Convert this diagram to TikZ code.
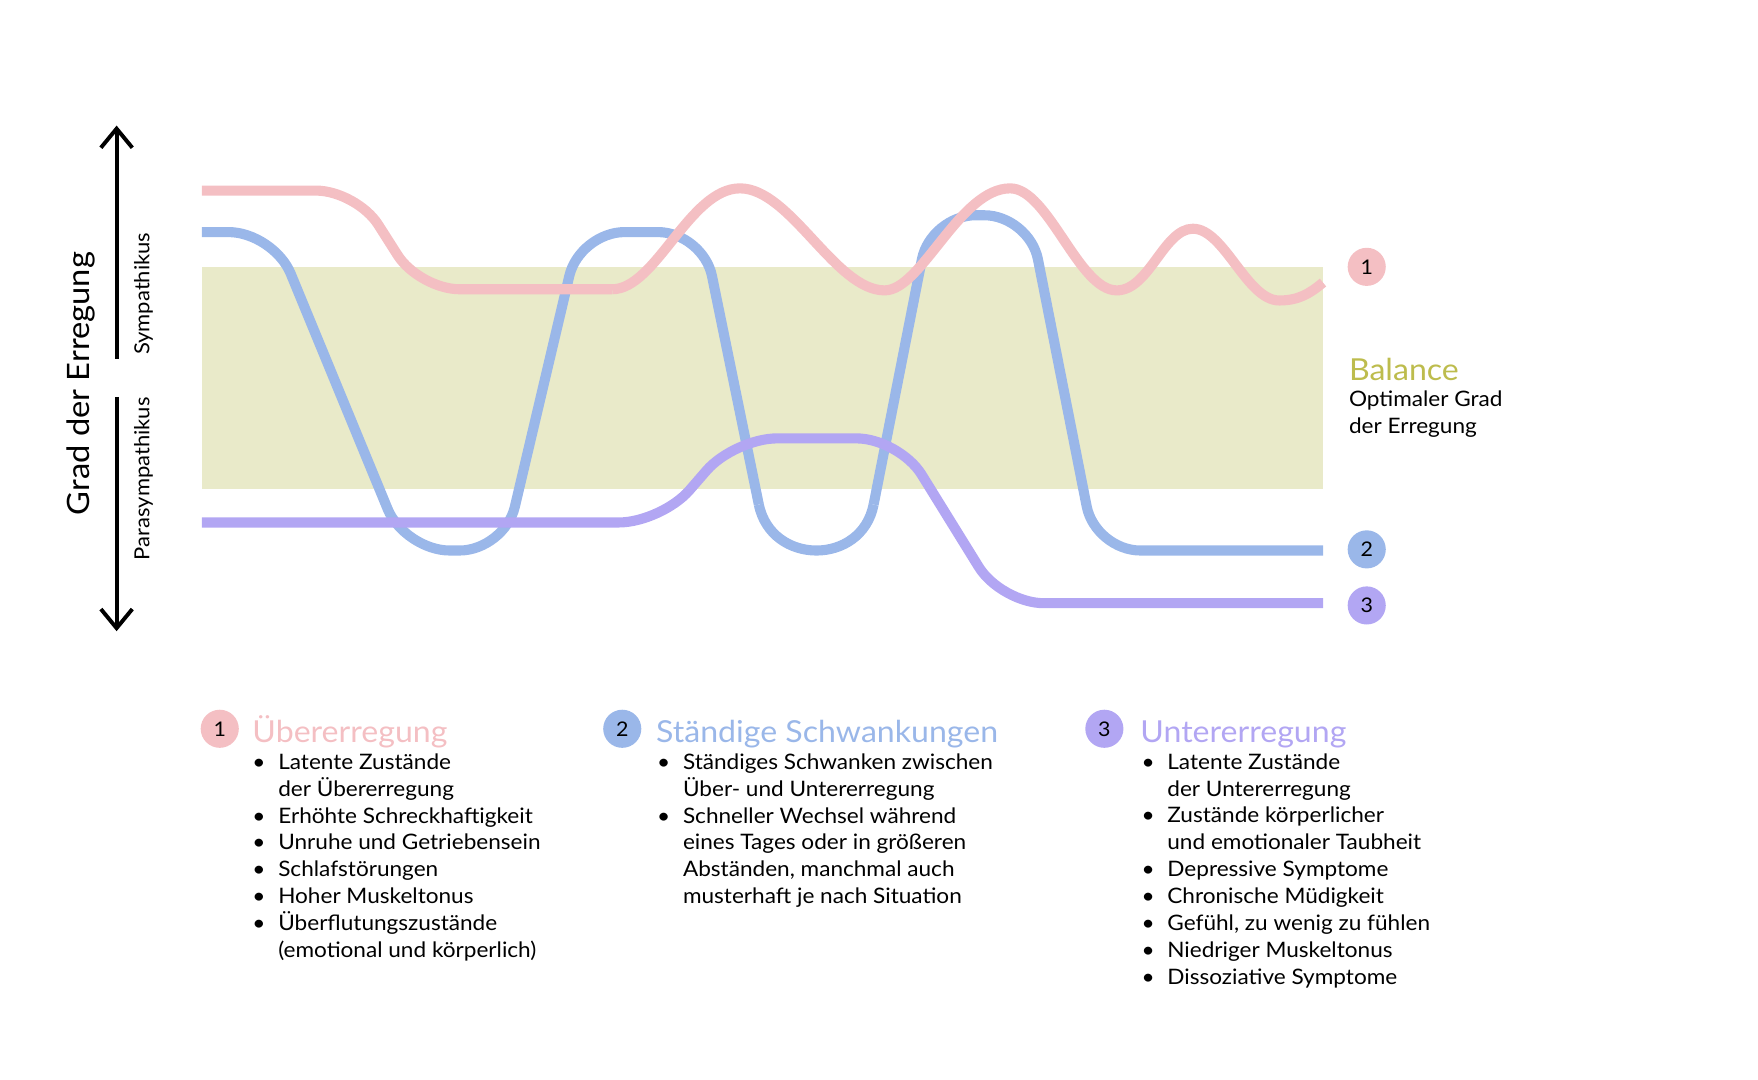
\documentclass[tikz,border=0pt]{standalone}
\usepackage{fontspec}
\setmainfont{Lato}[FakeStretch=1.06]
\usepackage{xcolor}
\usetikzlibrary{arrows.meta}

\definecolor{rosa}{HTML}{F4BFC3}
\definecolor{blau}{HTML}{9AB7E9}
\definecolor{lila}{HTML}{B2A6F3}
\definecolor{oliv}{HTML}{E9EAC9}
\definecolor{olivtext}{HTML}{BDBC4D}

\newcommand{\fs}[2]{\fontsize{#1}{#2}\selectfont}

\begin{document}
\begin{tikzpicture}[x=1pt,y=-1pt,
    kurve/.style={line width=9pt},
    achse/.style={line width=3.5pt,-{Straight Barb[length=17pt,width=28pt]}},
    nummer/.style={shape=circle,minimum size=34pt,inner sep=0pt,font=\fs{18}{20}},
    titel/.style={anchor=base west,inner sep=0pt,font=\fs{27}{30}},
    liste/.style={anchor=base west,inner sep=0pt,font=\fs{19}{24}}]
    \useasboundingbox (0,0) rectangle (1568,963);
    % balance band
    \fill[oliv] (180,238) rectangle (1180,436);
    % axis
    \coordinate (oben) at (104,112);
    \coordinate (mitte1) at (104,320);
    \coordinate (mitte2) at (104,354);
    \coordinate (unten) at (104,563);
    \draw[achse] (mitte1) -- (oben);
    \draw[achse] (mitte2) -- (unten);
    \node[rotate=90,font=\fs{27.5}{34}] (grad) at (72,342) {Grad der Erregung};
    \node[rotate=90,font=\fs{18.5}{22}] (sym) at (128,262) {Sympathikus};
    \node[rotate=90,font=\fs{18.5}{22}] (para) at (128,427) {Parasympathikus};
    % curves
    \draw[kurve,blau,rounded corners=40pt] (180,207) -- (244,207) -- (361,491) -- (450,491)
        -- (517,207) -- (627,207) -- (676.8,450);
    \draw[kurve,blau] (676.8,450) .. controls (688,504.7) and (768.5,504.7) .. (779.2,450);
    \draw[kurve,blau,rounded corners=40pt] (779.2,450) -- (830,192) -- (918,192) -- (977,491)
        -- (1180,491);
    \draw[kurve,lila,rounded corners=38pt] (180,466) -- (590,466) -- (655,391) -- (802,391)
        -- (893,538) -- (1180,538);
    \draw[kurve,rosa,rounded corners=36pt] (180,170) -- (318,170) -- (374,258) -- (546,258);
    \draw[kurve,rosa] (546,258) .. controls (585,258) and (615,168) .. (660,168)
        .. controls (705,168) and (745,259) .. (789,259)
        .. controls (822,259) and (856,168) .. (901,168)
        .. controls (935,168) and (962,259) .. (996,259)
        .. controls (1025,259) and (1038,204) .. (1064,204)
        .. controls (1092,204) and (1112,268) .. (1141,268)
        .. controls (1158,268) and (1168,262) .. (1180,252);
    % right labels
    \node[nummer,fill=rosa] (k1) at (1219,238) {1};
    \node[nummer,fill=blau] (k2) at (1219,490) {2};
    \node[nummer,fill=lila] (k3) at (1219,540) {3};
    \node[titel,text=olivtext] (bal) at (1203,339) {Balance};
    \node[anchor=base west,inner sep=0pt,font=\fs{19}{23.5}] (opt) at (1203,363)
        {\begin{tabular}[t]{@{}l@{}}Optimaler Grad\\der Erregung\end{tabular}};
    % legend 1
    \node[nummer,fill=rosa] (c1) at (196,650) {1};
    \node[titel,text=rosa] (t1) at (225,662) {Übererregung};
    \node[liste] (l1) at (225,686) {\begin{tabular}[t]{@{}p{23pt}@{}l@{}}
        \textbullet & Latente Zustände\\
         & der Übererregung\\
        \textbullet & Erhöhte Schreckhaftigkeit\\
        \textbullet & Unruhe und Getriebensein\\
        \textbullet & Schlafstörungen\\
        \textbullet & Hoher Muskeltonus\\
        \textbullet & Überflutungszustände\\
         & (emotional und körperlich)
        \end{tabular}};
    % legend 2
    \node[nummer,fill=blau] (c2) at (555,650) {2};
    \node[titel,text=blau] (t2) at (585,662) {Ständige Schwankungen};
    \node[liste] (l2) at (586,686) {\begin{tabular}[t]{@{}p{23pt}@{}l@{}}
        \textbullet & Ständiges Schwanken zwischen\\
         & Über- und Untererregung\\
        \textbullet & Schneller Wechsel während\\
         & eines Tages oder in größeren\\
         & Abständen, manchmal auch\\
         & musterhaft je nach Situation
        \end{tabular}};
    % legend 3
    \node[nummer,fill=lila] (c3) at (985,650) {3};
    \node[titel,text=lila] (t3) at (1017,662) {Untererregung};
    \node[liste] (l3) at (1018,686) {\begin{tabular}[t]{@{}p{23pt}@{}l@{}}
        \textbullet & Latente Zustände\\
         & der Untererregung\\
        \textbullet & Zustände körperlicher\\
         & und emotionaler Taubheit\\
        \textbullet & Depressive Symptome\\
        \textbullet & Chronische Müdigkeit\\
        \textbullet & Gefühl, zu wenig zu fühlen\\
        \textbullet & Niedriger Muskeltonus\\
        \textbullet & Dissoziative Symptome
        \end{tabular}};
\end{tikzpicture}
\end{document}
